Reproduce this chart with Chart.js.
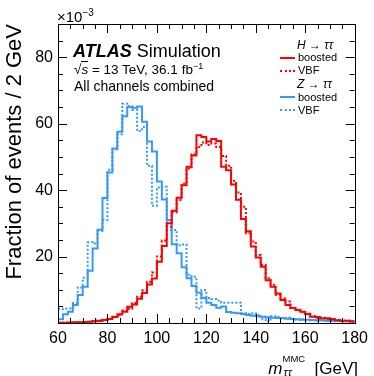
<!DOCTYPE html>
<html>
<head>
<meta charset="utf-8">
<script src="https://cdn.jsdelivr.net/npm/chart.js@4.4.1/dist/chart.umd.min.js"></script>
<style>
  body { margin: 0; background: #fff; }
  #wrap { position: relative; width: 374px; height: 376px; font-family: "Liberation Sans", Arial, sans-serif; color: #000; }
  #wrap .t { position: absolute; white-space: nowrap; line-height: 1; }
  .leg-line { position: absolute; width: 15px; height: 0; }
</style>
</head>
<body>
<div id="wrap">
  <canvas id="output" width="374" height="376"></canvas>
  <div class="t" style="left:57px;top:8px;font-size:15px;">×10<sup style="font-size:10px;vertical-align:6px;">−3</sup></div>
  <div class="t" style="left:73px;top:42px;font-size:18px;"><b><i>ATLAS</i></b> Simulation</div>
  <div class="t" style="left:74px;top:62px;font-size:13.5px;">√<span style="border-top:1px solid #000;font-style:italic;">s</span> = 13 TeV, 36.1 fb<sup style="font-size:9px;vertical-align:5px;">−1</sup></div>
  <div class="t" style="left:74px;top:79px;font-size:14px;">All channels combined</div>
  <div id="legend"></div>
  <div class="t" style="right:16px;top:357px;font-size:17px;"><i>m</i><span style="display:inline-block;position:relative;width:32px;height:1em;"><span style="position:absolute;left:0;top:-3px;font-size:9.5px;">MMC</span><span style="position:absolute;left:1px;top:10px;font-size:11px;font-style:italic;">ττ</span></span>[GeV]</div>
</div>
<script>
// binning of the m_tautau^MMC histograms
const xMin = 60;
const xMax = 180;
const binWidth = 2;

// fractions of events per 2 GeV bin (x 10^-3), bins from 60 to 180 GeV
const hBoosted = [0.1, 0.1, 0.15, 0.2, 0.25, 0.3, 0.4, 0.5, 0.6, 0.9,
  1.2, 1.8, 2.6, 3.4, 4.9, 5.6, 7.3, 9.0, 11.6, 13.4,
  18.4, 23.2, 30.0, 33.8, 37.7, 41.5, 47.0, 50.4, 56.5, 56.0,
  54.6, 55.4, 54.8, 47.0, 46.0, 41.7, 37.1, 31.3, 27.6, 23.0,
  19.7, 16.9, 12.9, 10.9, 8.9, 6.9, 5.4, 4.5, 3.9, 3.4,
  2.7, 1.9, 1.8, 1.4, 1.4, 1.2, 0.8, 0.7, 0.7, 0.5];

const hVBF = [0.1, 0.1, 0.1, 0.2, 0.2, 0.3, 0.4, 0.6, 0.8, 1.0,
  1.3, 1.9, 2.3, 3.8, 4.3, 6.0, 7.9, 9.8, 12.4, 15.2,
  20.0, 24.8, 29.0, 33.3, 37.0, 41.9, 46.5, 50.8, 53.0, 54.3,
  53.6, 54.0, 53.0, 50.3, 47.3, 42.8, 39.3, 35.0, 27.0, 24.5,
  20.5, 17.5, 13.5, 11.5, 8.5, 7.4, 6.5, 4.5, 4.0, 3.2,
  2.8, 2.0, 1.6, 1.5, 1.2, 1.0, 0.9, 0.6, 0.7, 0.4];

const zBoosted = [1.1, 2.6, 3.4, 5.4, 8.4, 10.9, 15.7, 22.4, 28.1, 37.6,
  45.3, 52.5, 57.6, 62.2, 65.0, 64.8, 65.2, 60.6, 54.6, 51.6,
  42.6, 37.2, 31.0, 23.7, 21.0, 16.8, 13.5, 11.1, 9.1, 7.5,
  6.1, 5.4, 4.6, 5.0, 3.3, 3.1, 2.9, 2.7, 2.4, 2.2,
  2.0, 1.9, 1.7, 1.6, 1.5, 1.4, 1.3, 1.2, 1.1, 1.0,
  1.0, 0.9, 0.8, 0.8, 0.7, 0.7, 0.6, 0.6, 0.5, 0.5];

const zVBF = [4.2, 4.4, 4.4, 6.0, 10.7, 13.6, 24.3, 23.9, 27.8, 31.0,
  46.1, 52.3, 56.8, 66.0, 65.3, 64.2, 57.8, 59.0, 47.3, 35.3,
  40.8, 41.0, 28.0, 28.0, 23.4, 23.6, 14.5, 13.9, 4.4, 9.9,
  7.5, 7.2, 6.8, 6.1, 6.1, 6.1, 6.1, 2.9, 2.7, 2.9,
  2.4, 1.1, 0.5, 2.0, 1.8, 1.5, 1.6, 1.2, 1.0, 1.1,
  0.8, 0.9, 0.7, 0.8, 0.6, 0.5, 0.6, 0.4, 0.5, 0.3];

const yTicks = [20, 40, 60, 80];
const xTicks = [60, 80, 100, 120, 140, 160, 180];

const red = '#ff0000';
const blue = '#3399ff';

// turn bin contents into step points at the lower bin edges (+ closing edge)
function toSteps(values) {
  const pts = values.map((v, i) => ({ x: xMin + i * binWidth, y: v }));
  pts.push({ x: xMin + values.length * binWidth, y: values[values.length - 1] });
  return pts;
}

const groups = [
  { title: '<i>H</i> → <i>ττ</i>', items: [
    { label: 'boosted', data: hBoosted, color: red, dash: [] },
    { label: 'VBF', data: hVBF, color: red, dash: [2, 2] }
  ]},
  { title: '<i>Z</i> → <i>ττ</i>', items: [
    { label: 'boosted', data: zBoosted, color: blue, dash: [] },
    { label: 'VBF', data: zVBF, color: blue, dash: [2, 2] }
  ]}
];

const datasets = [];
groups.forEach(g => g.items.forEach(it => {
  datasets.push({
    label: it.label,
    data: toSteps(it.data),
    borderColor: it.color,
    borderWidth: 2,
    borderDash: it.dash,
    stepped: true,
    pointRadius: 0,
    fill: false
  });
}));

// legend, built from the same groups (one row = 13px, positions by baseline)
const legend = document.getElementById('legend');
let base = 48.5;
groups.forEach(g => {
  legend.insertAdjacentHTML('beforeend',
    `<div class="t" style="left:297px;top:${base - 10}px;font-size:12px;">${g.title}</div>`);
  base += 13.3;
  g.items.forEach(it => {
    legend.insertAdjacentHTML('beforeend',
      `<div class="leg-line" style="left:280px;top:${base - 5}px;border-top:2px ${it.dash.length ? 'dotted' : 'solid'} ${it.color};"></div>` +
      `<div class="t" style="left:298px;top:${base - 9.4}px;font-size:11px;">${it.label}</div>`);
    base += 13;
  });
});

// ATLAS style frame with inward ticks on all four sides
const frameTicks = {
  id: 'frameTicks',
  afterDraw(chart) {
    const { ctx, chartArea: a, scales: { x, y } } = chart;
    ctx.save();
    ctx.strokeStyle = '#000';
    ctx.lineWidth = 1;
    ctx.beginPath();
    for (let v = xMin; v <= xMax; v += 5) {
      const px = Math.round(x.getPixelForValue(v)) + 0.5;
      const len = xTicks.includes(v) ? 9 : 5;
      ctx.moveTo(px, a.bottom); ctx.lineTo(px, a.bottom - len);
      ctx.moveTo(px, a.top); ctx.lineTo(px, a.top + len);
    }
    for (let v = 0; v <= 90; v += 5) {
      const py = Math.round(y.getPixelForValue(v)) + 0.5;
      const len = v % 20 === 0 ? 9 : 5;
      ctx.moveTo(a.left, py); ctx.lineTo(a.left + len, py);
      ctx.moveTo(a.right, py); ctx.lineTo(a.right - len, py);
    }
    ctx.stroke();
    ctx.strokeRect(Math.round(a.left) + 0.5, Math.round(a.top) + 0.5,
      Math.round(a.right - a.left), Math.round(a.bottom - a.top));
    ctx.restore();
  }
};

const ctx = document.getElementById('output').getContext('2d');
new Chart(ctx, {
  type: 'line',
  data: { datasets: datasets },
  options: {
    responsive: false,
    animation: false,
    devicePixelRatio: 1,
    layout: { padding: { top: 24, right: 16, left: 0, bottom: 0 } },
    plugins: { legend: { display: false }, tooltip: { enabled: false } },
    scales: {
      x: {
        type: 'linear',
        min: xMin,
        max: xMax,
        grid: { display: false, drawTicks: false },
        border: { display: false },
        afterFit: s => { s.height = 53; },
        afterBuildTicks: s => { s.ticks = xTicks.map(v => ({ value: v })); },
        ticks: {
          padding: 6,
          maxRotation: 0,
          color: '#000',
          font: { family: 'Liberation Sans', size: 16 }
        }
      },
      y: {
        min: 0,
        max: 90,
        grid: { display: false, drawTicks: false },
        border: { display: false },
        afterFit: s => { s.width = 58; },
        afterBuildTicks: s => { s.ticks = yTicks.map(v => ({ value: v })); },
        ticks: {
          padding: 5,
          color: '#000',
          font: { family: 'Liberation Sans', size: 16 }
        },
        title: {
          display: true,
          text: 'Fraction of events / 2 GeV',
          align: 'end',
          color: '#000',
          font: { family: 'Liberation Sans', size: 22 },
          padding: { top: 2, bottom: 0 }
        }
      }
    }
  },
  plugins: [frameTicks]
});
</script>
</body>
</html>
